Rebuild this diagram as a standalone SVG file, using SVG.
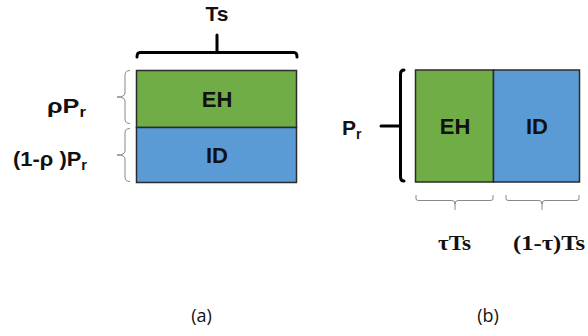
<svg xmlns="http://www.w3.org/2000/svg" width="588" height="336" viewBox="0 0 588 336">
  <style>
    .eh { fill: #70AD47; stroke: #2b2b2b; stroke-width: 1.5; }
    .id { fill: #5B9BD5; stroke: #2b2b2b; stroke-width: 1.5; }
    .lbl { font-family: "Liberation Sans", Arial, sans-serif; font-weight: bold; font-size: 21px; fill: #111; }
    .blk { font-size: 22px; }
    .tlbl { font-family: "Liberation Serif", "Times New Roman", serif; font-weight: bold; font-size: 20px; fill: #111; }
    .cap { font-family: "Open Sans", "DejaVu Sans", sans-serif; font-size: 18px; fill: #111; }
    .heavy { fill: none; stroke: #000; stroke-width: 3; stroke-linecap: round; }
    .thin { fill: none; stroke: #888; stroke-width: 1; }
  </style>

  <!-- (a) power splitting: stacked blocks -->
  <g id="a-eh">
    <rect class="eh" x="136.5" y="70.5" width="160" height="57"/>
    <text class="lbl blk" x="217" y="107" text-anchor="middle">EH</text>
  </g>
  <g id="a-id">
    <rect class="id" x="136.5" y="127.5" width="160" height="55"/>
    <text class="lbl blk" x="217" y="163" text-anchor="middle">ID</text>
  </g>
  <g id="a-ts">
    <text class="lbl" x="217" y="21" text-anchor="middle">Ts</text>
  </g>
  <g id="a-rho">
    <text class="lbl" x="47" y="112.5" textLength="39" lengthAdjust="spacingAndGlyphs">ρP<tspan font-size="14" dy="4">r</tspan></text>
  </g>
  <g id="a-one-minus-rho">
    <text class="lbl" x="13" y="166" textLength="74" lengthAdjust="spacingAndGlyphs">(1-ρ )P<tspan font-size="14" dy="4">r</tspan></text>
  </g>

  <!-- (b) time switching: side-by-side blocks -->
  <g id="b-eh">
    <rect class="eh" x="415.5" y="70" width="78" height="112"/>
    <text class="lbl blk" x="455" y="134" text-anchor="middle">EH</text>
  </g>
  <g id="b-id">
    <rect class="id" x="493.5" y="70" width="86" height="112"/>
    <text class="lbl blk" x="537" y="134" text-anchor="middle">ID</text>
  </g>
  <g id="b-pr">
    <text class="lbl" x="342" y="135">P<tspan font-size="14" dy="4">r</tspan></text>
  </g>
  <g id="b-tau">
    <text class="tlbl" x="438" y="250" textLength="33" lengthAdjust="spacingAndGlyphs">τTs</text>
  </g>
  <g id="b-one-minus-tau">
    <text class="tlbl" x="513" y="250" textLength="72" lengthAdjust="spacingAndGlyphs">(1-τ)Ts</text>
  </g>

  <!-- braces -->
  <g id="connectors">
    <!-- top brace over (a) -->
    <path class="heavy" d="M137,57 Q137,52.5 140,52.5 L294,52.5 Q297,52.5 297,57"/>
    <path class="heavy" d="M217,35 L217,52"/>
    <!-- left braces of (a) -->
    <path class="thin" d="M130,70.5 Q125,70.5 125,75 L125,93 Q125,97 117,97 Q125,97 125,101 L125,119 Q125,123.5 130,123.5"/>
    <path class="thin" d="M130,128.5 Q125,128.5 125,133 L125,151 Q125,155 117,155 Q125,155 125,159 L125,177 Q125,181.5 130,181.5"/>
    <!-- left bracket of (b) -->
    <path class="heavy" d="M404,70 Q400.5,70 400.5,74 L400.5,177 Q400.5,181 404,181"/>
    <path class="heavy" d="M381,126 L399,126"/>
    <!-- bottom braces of (b) -->
    <path class="thin" d="M416,195 L416,199 Q416,200.5 419,200.5 L452,200.5 Q455,200.5 455,204 Q455,200.5 458,200.5 L490,200.5 Q493,200.5 493,199 L493,195"/>
    <path class="thin" d="M455,203 L455,210"/>
    <path class="thin" d="M506,195 L506,199 Q506,200.5 509,200.5 L539,200.5 Q542,200.5 542,204 Q542,200.5 545,200.5 L576,200.5 Q579,200.5 579,199 L579,195"/>
    <path class="thin" d="M542,203 L542,210"/>
  </g>

  <!-- captions -->
  <text class="cap" x="201.5" y="322" text-anchor="middle">(a)</text>
  <text class="cap" x="488" y="322" text-anchor="middle">(b)</text>
</svg>
